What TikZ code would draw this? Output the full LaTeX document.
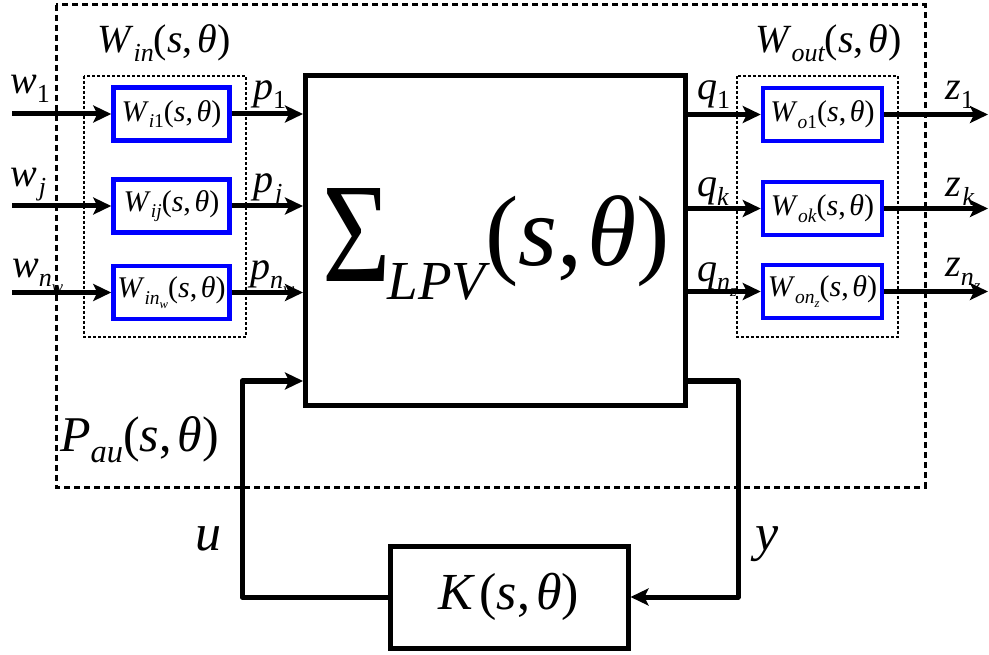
\documentclass[tikz,border=0pt]{standalone}
\usepackage{fontspec}
\setmainfont{Liberation Serif}
\usetikzlibrary{arrows.meta}
\newcommand{\fs}[1]{\fontsize{#1}{#1}\selectfont}
\newcommand{\sbs}[1]{\raisebox{-0.22em}{\scalebox{0.65}{\itshape #1}}}
\newcommand{\sth}{(\textit{s},\kern0.12em\textit{θ})}
\newcommand{\lab}[2]{\textit{#1}\sbs{#2}}
\begin{document}
\begin{tikzpicture}[x=1pt,y=-1pt,
  arr/.style={line width=5pt,line join=round,-{Stealth[length=18pt,width=17pt,inset=4pt]}},
  plain/.style={line width=5pt,line join=round},
  wbox/.style={draw=blue,line width=4.5pt,minimum height=53pt,inner sep=0pt,font=\fs{30}},
  bigbox/.style={draw,line width=5pt,inner sep=0pt},
  lbl/.style={anchor=base west,inner sep=0pt,font=\fs{40}},
  frame/.style={line width=3pt,dash pattern=on 6pt off 4pt},
  inner/.style={line width=1.5pt,dash pattern=on 3pt off 2pt}]
\useasboundingbox (0,0) rectangle (989,655);

% frames
\draw[frame] (56,5) rectangle (925,487);
\draw[inner] (84,76) rectangle (246,337);
\draw[inner] (737,76) rectangle (898,337);

% main block
\node[bigbox,minimum width=380pt,minimum height=330pt] (blk) at (495.5,240.5) {};
\node[anchor=base west,inner sep=0pt] (sig) at (322,266)
 {\raisebox{-16pt}{\scalebox{0.83}[1]{\fs{142}Σ}}\kern-3pt\raisebox{-34pt}{\fs{55}\itshape LPV}\fs{100}(\textit{s},\kern0.05em\textit{θ})};

% controller
\node[bigbox,minimum width=238pt,minimum height=102pt,font=\fs{52}] (K) at (509,597) {\textit{K}\kern4pt\sth};

% input weights
\node[wbox,minimum width=116pt] (bi1) at (171.5,114) {\lab{W}{i\textup{1}}\sth};
\node[wbox,minimum width=116pt] (bij) at (171.5,206) {\lab{W}{ij}\sth};
\node[wbox,minimum width=116pt] (bin) at (171.5,292.5) {\lab{W}{in\sbs{w}}\sth};

% output weights
\node[wbox,minimum width=119pt] (bo1) at (822.5,114.5) {\lab{W}{o\textup{1}}\sth};
\node[wbox,minimum width=119pt] (bok) at (822.5,208.5) {\lab{W}{ok}\sth};
\node[wbox,minimum width=119pt] (bon) at (822.5,291.5) {\lab{W}{on\sbs{z}}\sth};

% input arrows
\coordinate (w1) at (12,114);
\coordinate (wj) at (12,206);
\coordinate (wn) at (12,292.5);
\draw[arr] (w1) -- (bi1.west);
\draw[arr] (wj) -- (bij.west);
\draw[arr] (wn) -- (bin.west);
\draw[arr] (bi1.east) -- (blk.west |- bi1.east);
\draw[arr] (bij.east) -- (blk.west |- bij.east);
\draw[arr] (bin.east) -- (blk.west |- bin.east);

% output arrows
\coordinate (z1) at (988,114.5);
\coordinate (zk) at (988,208.5);
\coordinate (zn) at (988,291.5);
\draw[arr] (blk.east |- bo1.west) -- (bo1.west);
\draw[arr] (blk.east |- bok.west) -- (bok.west);
\draw[arr] (blk.east |- bon.west) -- (bon.west);
\draw[arr] (bo1.east) -- (z1);
\draw[arr] (bok.east) -- (zk);
\draw[arr] (bon.east) -- (zn);

% feedback loop
\coordinate (lu) at (242,381);
\coordinate (ly) at (738,381);
\draw[arr] (K.west) -| (lu) -- (blk.west |- lu);
\draw[arr] (blk.east |- ly) -- (ly) |- (K.east);

% labels
\node[lbl] (lwin) at (97,53) {\lab{W}{in}\sth};
\node[lbl] (lwout) at (755,53) {\lab{W}{out}\sth};
\node[lbl,font=\fs{50}] (lpau) at (60,451) {\lab{P}{au}\sth};
\node[lbl,font=\fs{52}] (lu1) at (195,550) {\textit{u}};
\node[lbl,font=\fs{52}] (ly1) at (755,550) {\textit{y}};

\node[lbl] (lw1) at (10,94) {\lab{w}{\textup{1}}};
\node[lbl] (lwj) at (10,187) {\lab{w}{\kern3pt j}};
\node[lbl] (lwn) at (12,278) {\lab{w}{n\sbs{w}}};
\node[lbl] (lp1) at (253,100) {\lab{p}{\textup{1}}};
\node[lbl] (lpj) at (253,193) {\lab{p}{\kern3pt j}};
\node[lbl] (lpn) at (250,280) {\lab{p}{n\sbs{w}}};
\node[lbl] (lq1) at (697,100) {\lab{q}{\textup{1}}};
\node[lbl] (lqk) at (697,197) {\lab{q}{k}};
\node[lbl] (lqn) at (697,282) {\lab{q}{n\sbs{z}}};
\node[lbl] (lz1) at (945,100) {\lab{z}{\textup{1}}};
\node[lbl] (lzk) at (945,197) {\lab{z}{\kern3pt k}};
\node[lbl] (lzn) at (945,277) {\lab{z}{n\sbs{z}}};
\end{tikzpicture}
\end{document}
